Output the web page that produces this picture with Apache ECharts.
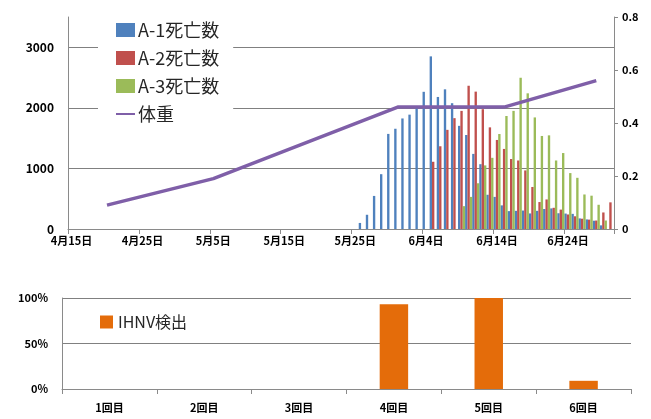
<!DOCTYPE html>
<html><head><meta charset="utf-8">
<script src="https://cdn.jsdelivr.net/npm/echarts@6/dist/echarts.min.js"></script>
<style>html,body{margin:0;padding:0;background:#fff}#c{width:651px;height:419px}</style>
</head><body><div id="c"></div>
<script>
// ---- categories (daily, 4/15 .. 6/30) ----
const firstMonth = 4, firstDay = 15, lastMonth = 6, lastDay = 30;
const daysInMonth = {4: 30, 5: 31, 6: 30};

// ---- deaths per day (values start at the given date) ----
const a1StartDate = '5月26日';
const a1Deaths = [100, 235, 546, 905, 1570, 1655, 1825, 1888, 2005, 2265, 2850, 2180, 2306, 2077, 1703, 1552, 1240, 1070, 565, 530, 390, 295, 300, 305, 257, 300, 330, 340, 260, 255, 250, 175, 158, 137, 60, 0];
const a2StartDate = '6月5日';
const a2Deaths = [1110, 1366, 1637, 1830, 1950, 2365, 2268, 1978, 1678, 1470, 1322, 1155, 1131, 967, 694, 445, 488, 350, 320, 240, 210, 170, 155, 140, 273, 440];
const a3StartDate = '6月9日';
const a3Deaths = [377, 530, 755, 1050, 1175, 1568, 1866, 1950, 2497, 2240, 1842, 1536, 1546, 1131, 1254, 923, 845, 570, 550, 400, 140, 0];

// ---- body weight (right axis) ----
const weightDates = ['4月20日', '5月5日', '5月31日', '6月15日', '6月28日'];
const weightValues = [0.09, 0.19, 0.46, 0.46, 0.56];

// ---- IHNV detection ----
const rounds = ['1回目', '2回目', '3回目', '4回目', '5回目', '6回目'];
const ihnvRate = [0, 0, 0, 0.93, 1.0, 0.09];

// ---- build tables ----
const dates = [];
for (let m = firstMonth; m <= lastMonth; m++) {
  const s = (m === firstMonth) ? firstDay : 1;
  const e = (m === lastMonth) ? lastDay : daysInMonth[m];
  for (let d = s; d <= e; d++) dates.push(m + '月' + d + '日');
}
function place(startDate, values) {
  const out = dates.map(() => null);
  const i0 = dates.indexOf(startDate);
  values.forEach((v, k) => { out[i0 + k] = v; });
  return out;
}
const a1Full = place(a1StartDate, a1Deaths);
const a2Full = place(a2StartDate, a2Deaths);
const a3Full = place(a3StartDate, a3Deaths);
const weightFull = dates.map(() => null);
weightDates.forEach((d, k) => { weightFull[dates.indexOf(d)] = weightValues[k]; });

const FONT = '"Noto Sans CJK JP", "Noto Sans", sans-serif';
const GRID_C = '#808080';
const AXIS_C = '#8a8a8a';
const lblStyle = {fontFamily: FONT, fontSize: 11, fontWeight: 'bold', color: '#000'};

const chart = echarts.init(document.getElementById('c'), null, {renderer: 'canvas'});
chart.setOption({
  animation: false,
  backgroundColor: '#fff',
  textStyle: {fontFamily: FONT},
  grid: [
    {left: 68, right: 37, top: 17, bottom: 190},
    {left: 62, right: 20, top: 298, bottom: 30}
  ],
  legend: [
    {
      data: [
        {name: 'A-1死亡数', icon: 'rect'},
        {name: 'A-2死亡数', icon: 'rect'},
        {name: 'A-3死亡数', icon: 'rect'},
        {name: '体重', itemStyle: {opacity: 0}}
      ],
      orient: 'vertical', left: 98, top: 17,
      padding: [4, 14, 6, 17],
      backgroundColor: '#fff',
      itemWidth: 19, itemHeight: 14, itemGap: 10,
      textStyle: {fontFamily: FONT, fontSize: 18, lineHeight: 18, color: '#262626', padding: [0, 0, 0, -2]}
    },
    {
      data: [{name: 'IHNV検出', icon: 'rect'}],
      left: 100, top: 314, padding: 0,
      itemWidth: 13, itemHeight: 13,
      textStyle: {fontFamily: FONT, fontSize: 16, lineHeight: 16, color: '#262626'}
    }
  ],
  xAxis: [
    {
      type: 'category', gridIndex: 0, data: dates, boundaryGap: true,
      axisLine: {show: true, lineStyle: {color: AXIS_C, width: 1}},
      axisTick: {show: true, interval: 9, length: 5, lineStyle: {color: AXIS_C}},
      axisLabel: Object.assign({interval: 9, margin: 6}, lblStyle)
    },
    {
      type: 'category', gridIndex: 1, data: rounds, boundaryGap: true,
      axisLine: {show: true, lineStyle: {color: AXIS_C, width: 1}},
      axisTick: {show: true, length: 5, lineStyle: {color: AXIS_C}},
      axisLabel: Object.assign({margin: 13}, lblStyle)
    }
  ],
  yAxis: [
    {
      type: 'value', gridIndex: 0, min: 0, max: 3500, interval: 1000,
      axisLine: {show: true, lineStyle: {color: AXIS_C}},
      axisTick: {show: false},
      axisLabel: Object.assign({margin: 14, showMaxLabel: false, formatter: v => String(v)}, lblStyle, {fontSize: 12}),
      splitLine: {show: true, showMaxLine: false, lineStyle: {color: GRID_C, width: 1.2}}
    },
    {
      type: 'value', gridIndex: 0, position: 'right', min: 0, max: 0.8, interval: 0.2,
      axisLine: {show: true, lineStyle: {color: AXIS_C}},
      axisTick: {show: true, length: 4, lineStyle: {color: AXIS_C}},
      axisLabel: Object.assign({margin: 8}, lblStyle),
      splitLine: {show: false}
    },
    {
      type: 'value', gridIndex: 1, min: 0, max: 1, interval: 0.5,
      axisLine: {show: true, lineStyle: {color: AXIS_C}},
      axisTick: {show: false},
      axisLabel: Object.assign({margin: 14, formatter: v => Math.round(v * 100) + '%'}, lblStyle),
      splitLine: {show: true, lineStyle: {color: GRID_C, width: 1.2}}
    }
  ],
  series: [
    {name: 'A-1死亡数', type: 'bar', xAxisIndex: 0, yAxisIndex: 0, data: a1Full,
     barGap: '0%', barCategoryGap: '0%', itemStyle: {color: '#4F81BD'}},
    {name: 'A-2死亡数', type: 'bar', xAxisIndex: 0, yAxisIndex: 0, data: a2Full,
     barGap: '0%', barCategoryGap: '0%', itemStyle: {color: '#C0504D'}},
    {name: 'A-3死亡数', type: 'bar', xAxisIndex: 0, yAxisIndex: 0, data: a3Full,
     barGap: '0%', barCategoryGap: '0%', itemStyle: {color: '#9BBB59'}},
    {name: '体重', type: 'line', xAxisIndex: 0, yAxisIndex: 1, data: weightFull,
     connectNulls: true, symbol: 'none', z: 5,
     lineStyle: {color: '#7F5FA8', width: 3.5}, itemStyle: {color: '#7F5FA8'}},
    {name: 'IHNV検出', type: 'bar', xAxisIndex: 1, yAxisIndex: 2, data: ihnvRate,
     barWidth: '30%', itemStyle: {color: '#E46C0A'}}
  ]
});
</script>
</body></html>
